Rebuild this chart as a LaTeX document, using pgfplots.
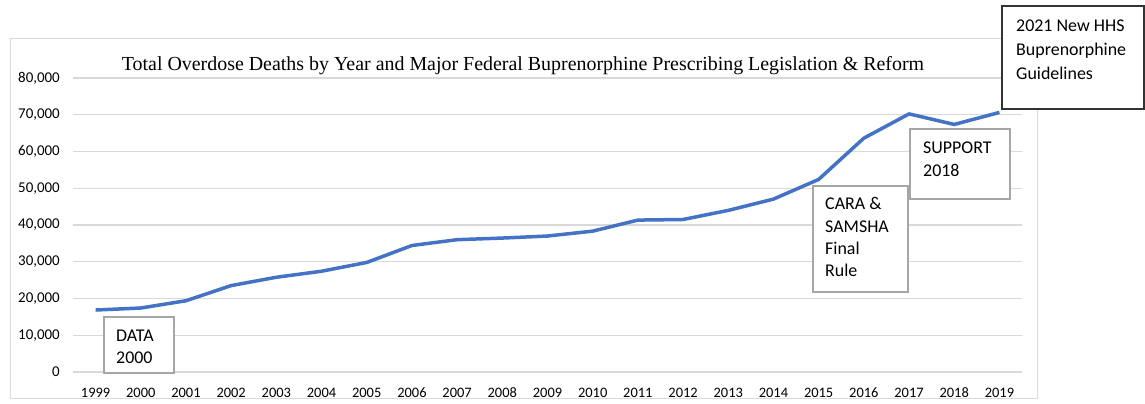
\documentclass[border=0pt]{standalone}
\usepackage{pgfplots}
\pgfplotsset{compat=1.18}
\usepackage{fontspec}
\setmainfont{Carlito}
\newfontfamily\timesfont{Liberation Serif}
\definecolor{xlblue}{HTML}{4472C4}
\definecolor{gridgray}{HTML}{D9D9D9}
\definecolor{boxgray}{HTML}{A6A6A6}

% one line of box text: left x, centre y of caps (pixels from top-left)
\newcommand{\boxline}[3]{\node[anchor=base west,inner sep=0pt,font=\fontsize{18}{22}\selectfont] at (#1,#2+6) {#3};}

\begin{document}
\begin{tikzpicture}
\begin{scope}[x=1bp,y=-1bp]
  \useasboundingbox (0,0) rectangle (1145,403);
  \draw[gridgray,line width=1bp] (10,38) rectangle (1037,398);
\end{scope}

\begin{axis}[
    at={(73bp,-372bp)}, anchor=south west,
    scale only axis, width=949bp, height=294bp,
    xmin=1998.5, xmax=2019.5,
    ymin=0, ymax=80000,
    xtick={1999,2000,...,2019},
    ytick={0,10000,...,80000},
    scaled y ticks=false,
    axis line style={draw=none},
    major tick length=0pt,
    ymajorgrids=true,
    grid style={gridgray,line width=1.3bp},
    /pgf/number format/assume math mode=true,
    x tick label style={/pgf/number format/1000 sep={}, font=\fontsize{14.5}{16}\selectfont,
        anchor=base, inner sep=0pt, yshift=-25bp},
    y tick label style={/pgf/number format/1000 sep={,}, font=\fontsize{15}{17}\selectfont,
        anchor=east, inner sep=0pt, xshift=-13bp},
    clip=false,
]
\addplot[xlblue, line width=3.5bp, line join=round] coordinates {
    (1999,16870) (2000,17415) (2001,19394) (2002,23518) (2003,25785)
    (2004,27424) (2005,29813) (2006,34425) (2007,36010) (2008,36450)
    (2009,37004) (2010,38329) (2011,41340) (2012,41502) (2013,43982)
    (2014,47055) (2015,52404) (2016,63632) (2017,70237) (2018,67367)
    (2019,70630)
};
\end{axis}

\begin{scope}[x=1bp,y=-1bp]
  \node[anchor=base,inner sep=0pt,font=\timesfont\fontsize{20}{23}\selectfont]
    at (523,70) {Total Overdose Deaths by Year and Major Federal Buprenorphine Prescribing Legislation \& Reform};

  \draw[boxgray,line width=1.2bp,fill=white] (104,317) rectangle (174,373);
  \boxline{116}{335}{DATA}
  \boxline{116}{357}{2000}

  \draw[boxgray,line width=1.2bp,fill=white] (813,186) rectangle (908,292);
  \boxline{825}{203}{CARA \&}
  \boxline{825}{226}{SAMSHA}
  \boxline{825}{248}{Final}
  \boxline{825}{270}{Rule}

  \draw[boxgray,line width=1.2bp,fill=white] (910,129) rectangle (1010,199);
  \boxline{923}{147}{SUPPORT}
  \boxline{923}{170}{2018}

  \draw[black!80,line width=1.3bp,fill=white] (1002,6) rectangle (1144,109);
  \boxline{1016}{25}{2021 New HHS}
  \boxline{1016}{49}{Buprenorphine}
  \boxline{1016}{73}{Guidelines}
\end{scope}
\end{tikzpicture}
\end{document}
